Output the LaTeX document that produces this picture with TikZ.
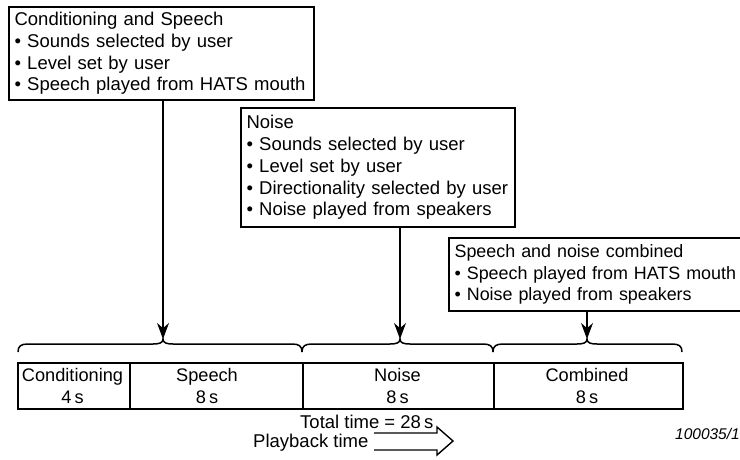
\documentclass[tikz,border=0pt]{standalone}
\usepackage{fontspec}
\setmainfont{Liberation Sans}
\usetikzlibrary{arrows.meta}
\begin{document}
\begin{tikzpicture}[x=1pt,y=-1pt,
  every node/.style={font=\fontsize{18.5}{21.7}\selectfont},
  infobox/.style={draw, line width=2.2pt, anchor=north west, inner xsep=5pt, inner ysep=0pt, align=left},
  cell/.style={draw, line width=1.8pt, minimum height=46pt, inner sep=0pt},
  celltext/.style={align=center, inner sep=0pt, font=\fontsize{18.2}{22.5}\selectfont},
  pointer/.style={line width=1.2pt, -{Stealth[length=16pt,width=12pt]}},
  bracepath/.style={line width=1.5pt},
  plain/.style={inner sep=0pt}]
\useasboundingbox (0,0) rectangle (740,459);

% information boxes
\node[infobox, minimum width=305pt, minimum height=93pt, text width=294pt] (cs) at (8,6)
 {Conditioning and Speech\\• Sounds selected by user\\• Level set by user\\• Speech played from HATS mouth};
\node[infobox, minimum width=274pt, minimum height=119pt, text width=263pt] (ns) at (240,107)
 {Noise\\• Sounds selected by user\\• Level set by user\\• Directionality selected by user\\• Noise played from speakers};
\node[infobox, minimum width=320pt, minimum height=73pt, text width=309pt, inner xsep=4.5pt,
  font=\fontsize{17.9}{21.7}\selectfont] (cb) at (448,237)
 {Speech and noise combined\\• Speech played from HATS mouth\\• Noise played from speakers};

% brace tips
\coordinate (t1) at (163,339);
\coordinate (t2) at (400,339);
\coordinate (t3) at (587,339);

% braces
\draw[bracepath] (18,352) .. controls (18,346) and (21,344) .. (28,344) -- (153,344)
  .. controls (159,344) and (163,343) .. (t1) .. controls (163,343) and (167,344) .. (173,344)
  -- (292,344) .. controls (299,344) and (302,346) .. (302,352);
\draw[bracepath] (302,352) .. controls (302,346) and (305,344) .. (312,344) -- (390,344)
  .. controls (396,344) and (400,343) .. (t2) .. controls (400,343) and (404,344) .. (410,344)
  -- (483,344) .. controls (490,344) and (493,346) .. (493,352);
\draw[bracepath] (493,352) .. controls (493,346) and (496,344) .. (503,344) -- (577,344)
  .. controls (583,344) and (587,343) .. (t3) .. controls (587,343) and (591,344) .. (597,344)
  -- (672,344) .. controls (679,344) and (682,346) .. (682,352);

% arrows
\draw[pointer] (cs.south -| t1) -- (t1);
\draw[pointer] (ns.south -| t2) -- (t2);
\draw[pointer] (cb.south -| t3) -- (t3);

% timeline cells
\node[cell, minimum width=112pt, anchor=north west] (c1) at (17,362) {};
\node[cell, minimum width=173pt, anchor=north west] (c2) at (129,362) {};
\node[cell, minimum width=191pt, anchor=north west] (c3) at (302,362) {};
\node[cell, minimum width=189pt, anchor=north west] (c4) at (493,362) {};
\node[celltext] (l1) at (72.5,386) {Conditioning\\4\,s};
\node[celltext] (l2) at (207,386) {Speech\\8\,s};
\node[celltext] (l3) at (397.5,386) {Noise\\8\,s};
\node[celltext] (l4) at (587,386) {Combined\\8\,s};

% totals
\node[plain, anchor=base west] (tt) at (300,428) {Total time = 28\,s};
\node[plain, anchor=base west] (pb) at (253,447) {Playback time};
\draw[line width=1.4pt, line join=miter] (374,433) -- (437,433) -- (437,427) -- (453,441)
  -- (437,455) -- (437,450) -- (374,450);

% figure id
\node[plain, anchor=base east, font=\fontsize{15.5}{18}\selectfont\itshape] (id) at (740,439) {100035/1};
\end{tikzpicture}
\end{document}
